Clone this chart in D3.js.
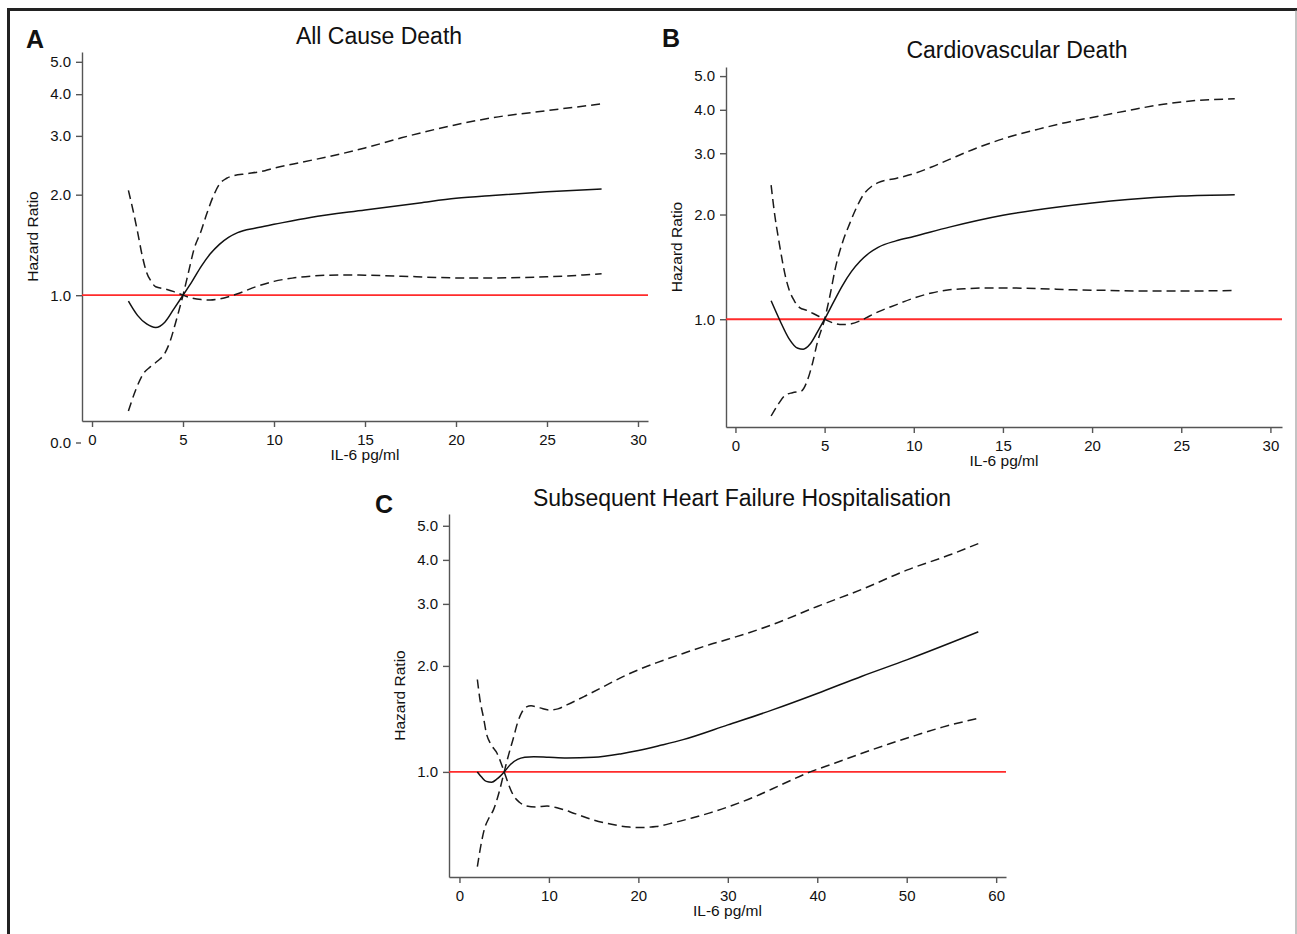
<!DOCTYPE html>
<html>
<head>
<meta charset="utf-8">
<script src="https://cdn.jsdelivr.net/npm/d3@7"></script>
<style>
body { margin: 0; background: #fff; }
svg text { font-family: "Liberation Sans", Arial, Helvetica, sans-serif; fill: #111; }
</style>
</head>
<body>
<svg id="chart" width="1297" height="934"></svg>
<script>
// tick values
var yTicks = [1, 2, 3, 4, 5];
var xTicksAB = [0, 5, 10, 15, 20, 25, 30];
var xTicksC = [0, 10, 20, 30, 40, 50, 60];

// A - all cause death, [IL-6, hazard ratio]
var allCauseHR = [[2,0.96],[2.5,0.87],[3,0.82],[3.5,0.80],[4,0.83],[4.5,0.91],[5,1.0],[5.5,1.1],[6,1.22],[6.5,1.33],[7,1.42],[7.5,1.49],[8,1.54],[9,1.59],[10,1.63],[12,1.71],[15,1.80],[18,1.89],[20,1.95],[22,1.99],[25,2.04],[28,2.08]];
var allCauseBandHigh = [[2,0.45],[2.4,0.52],[2.8,0.58],[3.2,0.61],[3.6,0.635],[4,0.67],[4.3,0.73],[4.6,0.83],[5,1.0],[5.3,1.17],[5.6,1.37],[6,1.56],[6.3,1.75],[6.7,2.0],[7,2.15],[7.4,2.24],[7.8,2.28],[8.5,2.31],[9.5,2.36],[10,2.40],[11.5,2.50],[13,2.60],[15,2.76],[17,2.96],[20,3.24],[22,3.40],[25,3.57],[28,3.74]];
var allCauseBandLow = [[2,2.06],[2.25,1.8],[2.5,1.55],[2.75,1.32],[3,1.17],[3.25,1.10],[3.5,1.06],[4,1.045],[4.5,1.025],[5,1.0],[5.5,0.98],[6,0.97],[6.5,0.967],[7,0.975],[7.5,0.99],[8,1.01],[9,1.06],[10,1.10],[11,1.125],[12,1.14],[13,1.148],[14,1.15],[15,1.148],[17,1.14],[19,1.13],[21,1.125],[23,1.128],[25,1.135],[27,1.15],[28,1.16]];

// B - cardiovascular death
var cvDeathHR = [[2,1.13],[2.5,0.99],[3,0.88],[3.5,0.825],[3.8,0.82],[4.2,0.85],[4.6,0.92],[5,1.0],[5.5,1.12],[6,1.25],[6.5,1.37],[7,1.47],[7.5,1.55],[8,1.61],[9,1.68],[10,1.73],[12,1.84],[15,1.99],[18,2.10],[20,2.16],[22,2.21],[25,2.26],[28,2.28]];
var cvDeathBandHigh = [[2,0.527],[2.4,0.57],[2.8,0.605],[3.2,0.615],[3.7,0.622],[4,0.66],[4.3,0.74],[4.6,0.86],[5,1.0],[5.3,1.17],[5.6,1.4],[6,1.66],[6.4,1.88],[6.8,2.1],[7.2,2.29],[7.6,2.40],[8,2.47],[9,2.54],[10,2.62],[11,2.74],[12,2.88],[13,3.03],[15,3.30],[17,3.52],[19,3.72],[20,3.80],[22,3.98],[24,4.15],[26,4.26],[28,4.30]];
var cvDeathBandLow = [[2,2.43],[2.2,2.0],[2.4,1.72],[2.6,1.5],[2.8,1.33],[3,1.22],[3.3,1.13],[3.6,1.08],[4,1.06],[4.5,1.03],[5,1.0],[5.5,0.975],[6,0.965],[6.5,0.97],[7,0.99],[7.5,1.02],[8,1.05],[9,1.1],[10,1.15],[11,1.19],[12,1.215],[13,1.225],[14,1.23],[15,1.23],[17,1.225],[19,1.215],[21,1.21],[23,1.205],[25,1.205],[28,1.21]];

// C - heart failure hospitalisation
var hfHospHR = [[2,1.0],[2.5,0.965],[3,0.94],[3.6,0.935],[4.2,0.955],[5,1.0],[5.7,1.05],[6.5,1.085],[7.3,1.10],[8.3,1.105],[10,1.10],[12,1.095],[15,1.10],[18,1.125],[20,1.15],[22.5,1.19],[25,1.235],[30,1.36],[35,1.50],[40,1.67],[45,1.87],[50,2.08],[55,2.33],[58,2.50]];
var hfHospBandHigh = [[2,0.538],[2.4,0.62],[2.8,0.69],[3.3,0.74],[3.8,0.78],[4.4,0.87],[5,1.0],[5.5,1.12],[6,1.24],[6.5,1.38],[7,1.48],[7.5,1.53],[8,1.54],[9,1.52],[10,1.50],[11,1.51],[12,1.55],[14,1.64],[16,1.74],[18,1.85],[20,1.95],[22,2.04],[25,2.17],[28,2.30],[30,2.38],[35,2.62],[40,2.95],[45,3.30],[50,3.74],[55,4.15],[58,4.45]];
var hfHospBandLow = [[2,1.83],[2.3,1.6],[2.7,1.42],[3,1.29],[3.5,1.20],[4.2,1.13],[5,1.0],[5.5,0.92],[6,0.86],[6.7,0.82],[7.5,0.80],[8.5,0.795],[9.8,0.80],[11,0.79],[13,0.76],[15,0.73],[17,0.71],[19,0.697],[20,0.695],[22,0.70],[24,0.718],[26,0.74],[28,0.765],[30,0.795],[33,0.85],[36,0.92],[39,0.995],[42,1.06],[45,1.13],[48,1.20],[51,1.27],[54,1.34],[58,1.42]];

var svg = d3.select("#chart");

//Frame round the figure
svg.append("line").attr("x1", 7).attr("y1", 9.5).attr("x2", 1297).attr("y2", 9.5)
	.style("stroke", "#222").style("stroke-width", 3);
svg.append("line").attr("x1", 8.5).attr("y1", 8).attr("x2", 8.5).attr("y2", 934)
	.style("stroke", "#222").style("stroke-width", 3);
svg.append("line").attr("x1", 1296).attr("y1", 10).attr("x2", 1296).attr("y2", 934)
	.style("stroke", "#888").style("stroke-width", 1);

function drawPanel(p)
{
	var x = d3.scaleLinear().domain(p.xDomain).range([p.left, p.right]);
	var y = d3.scaleLog().domain(p.yDomain).range([p.bottom, p.top]);

	var g = svg.append("g");

	//Axes
	var yAxis = g.append("g")
		.attr("transform", "translate(" + p.left + ",0)")
		.call(d3.axisLeft(y).tickValues(yTicks).tickFormat(d3.format(".1f")).tickSize(6).tickSizeOuter(0).tickPadding(5));
	var xAxis = g.append("g")
		.attr("transform", "translate(0," + p.bottom + ")")
		.call(d3.axisBottom(x).tickValues(p.xTicks).tickSize(6).tickSizeOuter(0).tickPadding(7));
	[yAxis, xAxis].forEach(function(a) {
		a.selectAll("path, line").style("stroke", "#555").style("stroke-width", 1.4);
		a.selectAll("text").style("font-size", "15px").style("fill", "#111")
			.style("font-family", '"Liberation Sans", Arial, sans-serif');
	});

	//Stray 0.0 label under panel A's axis
	if (p.zeroLabel)
	{
		g.append("line")
			.attr("x1", p.left - 6).attr("x2", p.left - 1)
			.attr("y1", p.bottom + 22).attr("y2", p.bottom + 22)
			.style("stroke", "#555").style("stroke-width", 1.4);
		g.append("text")
			.attr("x", p.left - 11).attr("y", p.bottom + 22)
			.attr("dy", "0.32em").attr("text-anchor", "end")
			.style("font-size", "15px").text("0.0");
	}

	//Reference line at HR = 1
	g.append("line")
		.attr("x1", p.left).attr("x2", p.right)
		.attr("y1", y(1)).attr("y2", y(1))
		.style("stroke", "#ff2b2b").style("stroke-width", 1.8);

	var line = d3.line()
		.x(function(d) { return x(d[0]); })
		.y(function(d) { return y(d[1]); })
		.curve(d3.curveMonotoneX);

	[p.bandHigh, p.bandLow].forEach(function(s) {
		g.append("path").datum(s).attr("d", line)
			.style("fill", "none").style("stroke", "#1a1a1a")
			.style("stroke-width", 1.5).style("stroke-dasharray", "9,5");
	});
	g.append("path").datum(p.hr).attr("d", line)
		.style("fill", "none").style("stroke", "#111").style("stroke-width", 1.5);

	//Labels
	g.append("text")
		.attr("transform", "translate(" + (p.left - 44) + "," + ((p.top + p.bottom) / 2) + ") rotate(-90)")
		.attr("text-anchor", "middle").style("font-size", "15.5px").text("Hazard Ratio");
	g.append("text")
		.attr("x", (p.left + p.right) / 2).attr("y", p.bottom + 39)
		.attr("text-anchor", "middle").style("font-size", "15.5px").text("IL-6 pg/ml");
	g.append("text")
		.attr("x", p.titleX).attr("y", p.titleY)
		.attr("text-anchor", "middle").style("font-size", "23px").text(p.title);
	g.append("text")
		.attr("x", p.letterX).attr("y", p.letterY)
		.style("font-size", "25px").style("font-weight", "bold").text(p.letter);
}

drawPanel({ left: 82, right: 648, top: 52, bottom: 421,
	xDomain: [-0.55, 30.55], yDomain: [0.42, 5.35], xTicks: xTicksAB,
	hr: allCauseHR, bandHigh: allCauseBandHigh, bandLow: allCauseBandLow,
	title: "All Cause Death", titleX: 379, titleY: 44, letter: "A", letterX: 26, letterY: 48, zeroLabel: true });

drawPanel({ left: 726, right: 1282, top: 67, bottom: 427,
	xDomain: [-0.53, 30.65], yDomain: [0.49, 5.31], xTicks: xTicksAB,
	hr: cvDeathHR, bandHigh: cvDeathBandHigh, bandLow: cvDeathBandLow,
	title: "Cardiovascular Death", titleX: 1017, titleY: 58, letter: "B", letterX: 662, letterY: 47, zeroLabel: false });

drawPanel({ left: 449, right: 1006, top: 514, bottom: 877,
	xDomain: [-1.17, 61.1], yDomain: [0.503, 5.40], xTicks: xTicksC,
	hr: hfHospHR, bandHigh: hfHospBandHigh, bandLow: hfHospBandLow,
	title: "Subsequent Heart Failure Hospitalisation", titleX: 742, titleY: 506, letter: "C", letterX: 375, letterY: 513, zeroLabel: false });
</script>
</body>
</html>
